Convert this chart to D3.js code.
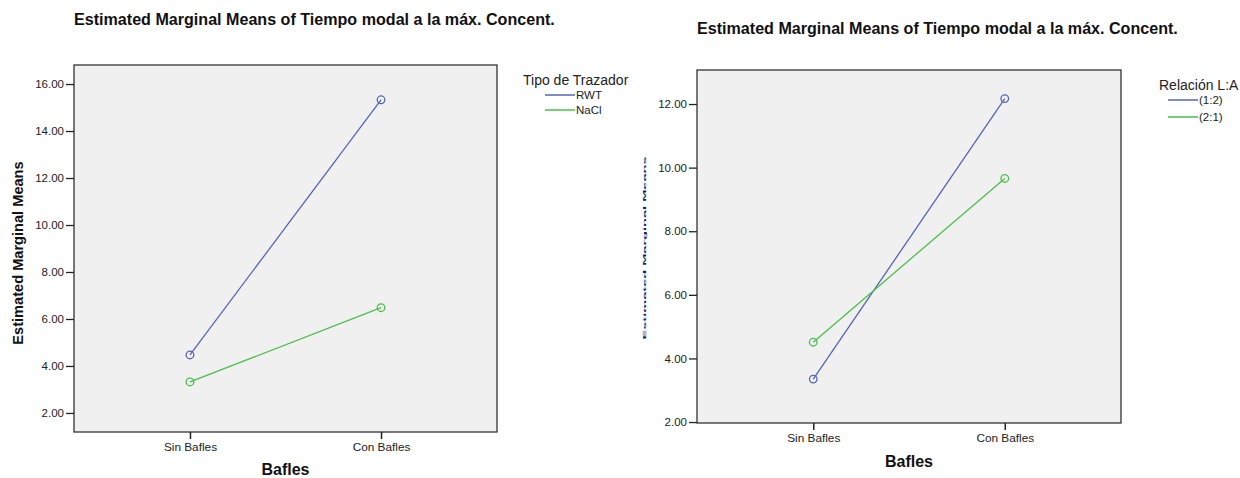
<!DOCTYPE html>
<html>
<head>
<meta charset="utf-8">
<script src="https://cdn.jsdelivr.net/npm/d3@7"></script>
<style>
  html, body { margin: 0; padding: 0; background: #ffffff; }
  svg { display: block; font-family: "Liberation Sans", Arial, sans-serif; }
</style>
</head>
<body>
<svg id="chart" width="1240" height="478"></svg>
<script>
// Bafles levels shared by both profile plots
const categories = ["Sin Bafles", "Con Bafles"];

// Plot 1: Tipo de Trazador
const leftSeriesNames = ["RWT", "NaCl"];
const leftRWT = [4.47, 15.33];
const leftNaCl = [3.32, 6.48];
const leftTicks = [2, 4, 6, 8, 10, 12, 14, 16];

// Plot 2: Relación L:A
const rightSeriesNames = ["(1:2)", "(2:1)"];
const right12 = [3.35, 12.17];
const right21 = [4.51, 9.66];
const rightTicks = [2, 4, 6, 8, 10, 12];

const titleText = "Estimated Marginal Means of Tiempo modal a la máx. Concent.";
const yTitleText = "Estimated Marginal Means";
const xTitleText = "Bafles";

const colors = ["#5566b4", "#4cbf4c"];
const svg = d3.select("#chart");

function drawPlot(cfg) {
  const g = svg.append("g");
  const x = d3.scalePoint().domain(categories)
    .range([cfg.left, cfg.right]).padding(0.607);
  const y = d3.scaleLinear().domain(cfg.yDomain).range([cfg.bottom, cfg.top]);

  // title
  g.append("text").attr("x", cfg.titleX).attr("y", cfg.titleY)
    .attr("font-size", 16.1).attr("font-weight", "bold").attr("fill", "#111")
    .text(titleText);

  // plot frame
  g.append("rect").attr("x", cfg.left).attr("y", cfg.top)
    .attr("width", cfg.right - cfg.left).attr("height", cfg.bottom - cfg.top)
    .attr("fill", "#f0f0f0").attr("stroke", "#333").attr("stroke-width", 1.3);

  // y axis
  const yAxis = d3.axisLeft(y).tickValues(cfg.ticks)
    .tickFormat(d3.format(".2f")).tickSize(8).tickSizeOuter(0).tickPadding(2);
  const ya = g.append("g").attr("transform", `translate(${cfg.left},0)`).call(yAxis);
  ya.select(".domain").remove();
  ya.selectAll(".tick line").attr("stroke", "#222").attr("stroke-width", 1.3);
  ya.selectAll(".tick text").attr("font-size", 11.5).attr("fill", "#222")
    .attr("font-family", "Liberation Sans, Arial, sans-serif");

  // x axis
  const xAxis = d3.axisBottom(x).tickSize(7).tickSizeOuter(0).tickPadding(4);
  const xa = g.append("g").attr("transform", `translate(0,${cfg.bottom})`).call(xAxis);
  xa.select(".domain").remove();
  xa.selectAll(".tick line").attr("stroke", "#222").attr("stroke-width", 1.5);
  xa.selectAll(".tick text").attr("font-size", 11.8).attr("fill", "#222")
    .attr("font-family", "Liberation Sans, Arial, sans-serif");

  // x title
  g.append("text").attr("x", (cfg.left + cfg.right) / 2).attr("y", cfg.xTitleY)
    .attr("text-anchor", "middle").attr("font-size", 16).attr("font-weight", "bold")
    .attr("fill", "#111").text(xTitleText);

  // y title (the second plot's copy is rendered compressed to a thin strip)
  g.append("text")
    .attr("transform", `translate(${cfg.yTitleX},${cfg.yTitleY}) rotate(-90) scale(1,${cfg.yTitleSquash})`)
    .attr("text-anchor", "middle").attr("font-size", 14.6).attr("font-weight", "bold")
    .attr("fill", cfg.yTitleColor).text(yTitleText);

  // series lines + open circle markers
  const line = d3.line().x((d, i) => x(categories[i])).y(d => y(d));
  cfg.series.forEach((vals, si) => {
    g.append("path").datum(vals).attr("d", line)
      .attr("fill", "none").attr("stroke", colors[si]).attr("stroke-width", 1.3);
    g.selectAll(null).data(vals).enter().append("circle")
      .attr("cx", (d, i) => x(categories[i])).attr("cy", d => y(d))
      .attr("r", 3.8).attr("fill", "none")
      .attr("stroke", colors[si]).attr("stroke-width", 1.3);
  });

  // legend
  const lg = g.append("g");
  lg.append("text").attr("x", cfg.legTitleX).attr("y", cfg.legTitleY)
    .attr("font-size", 14).attr("fill", "#222").text(cfg.legendTitle);
  cfg.names.forEach((n, i) => {
    const ly = cfg.legY + i * cfg.legStep;
    lg.append("line").attr("x1", cfg.legX).attr("x2", cfg.legX + 30)
      .attr("y1", ly).attr("y2", ly).attr("stroke", colors[i]).attr("stroke-width", 1.5);
    lg.append("text").attr("x", cfg.legX + 31).attr("y", ly + 4)
      .attr("font-size", 11.5).attr("fill", "#222").text(n);
  });
}

drawPlot({
  left: 74, right: 497, top: 65, bottom: 432,
  yDomain: [1.19, 16.81], ticks: leftTicks,
  series: [leftRWT, leftNaCl], names: leftSeriesNames,
  titleX: 74, titleY: 25, xTitleY: 475,
  yTitleX: 23, yTitleY: 253, yTitleSquash: 1, yTitleColor: "#111",
  legendTitle: "Tipo de Trazador", legTitleX: 523, legTitleY: 85,
  legX: 545, legY: 95, legStep: 15
});

drawPlot({
  left: 697, right: 1121, top: 70, bottom: 423,
  yDomain: [1.97, 13.07], ticks: rightTicks,
  series: [right12, right21], names: rightSeriesNames,
  titleX: 697, titleY: 34, xTitleY: 467,
  yTitleX: 646, yTitleY: 248, yTitleSquash: 0.21, yTitleColor: "#001a66",
  legendTitle: "Relación L:A", legTitleX: 1159, legTitleY: 90,
  legX: 1168, legY: 100, legStep: 17
});
</script>
</body>
</html>
